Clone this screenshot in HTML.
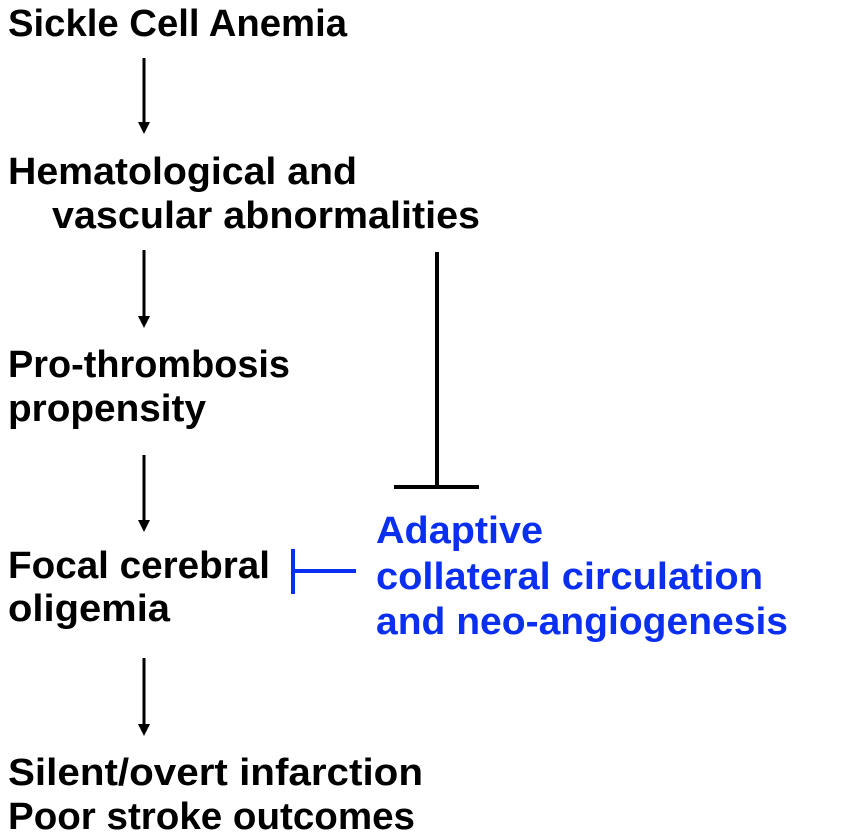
<!DOCTYPE html>
<html><head><meta charset="utf-8"><style>html,body{margin:0;padding:0;background:#fff;}svg{display:block}</style></head>
<body>
<svg width="851" height="839" viewBox="0 0 851 839" xmlns="http://www.w3.org/2000/svg">
<defs><marker id="ah" markerWidth="10" markerHeight="10" refX="5" refY="9" orient="auto" markerUnits="userSpaceOnUse"><path d="M0,0 L10,0 L5,10 Z" fill="#000"/></marker></defs>
<g font-family="Liberation Sans, sans-serif" font-weight="bold" font-size="38" fill="#000">
<text x="8" y="36" textLength="339" lengthAdjust="spacingAndGlyphs">Sickle Cell Anemia</text>
<text x="8" y="184" textLength="349" lengthAdjust="spacingAndGlyphs">Hematological and</text>
<text x="52" y="228" textLength="428" lengthAdjust="spacingAndGlyphs">vascular abnormalities</text>
<text x="8" y="377" textLength="282" lengthAdjust="spacingAndGlyphs">Pro-thrombosis</text>
<text x="8" y="421" textLength="198" lengthAdjust="spacingAndGlyphs">propensity</text>
<text x="8" y="578" textLength="262" lengthAdjust="spacingAndGlyphs">Focal cerebral</text>
<text x="8" y="621" textLength="162" lengthAdjust="spacingAndGlyphs">oligemia</text>
<text x="8" y="785" textLength="415" lengthAdjust="spacingAndGlyphs">Silent/overt infarction</text>
<text x="8" y="829" textLength="407" lengthAdjust="spacingAndGlyphs">Poor stroke outcomes</text>
</g>
<g font-family="Liberation Sans, sans-serif" font-weight="bold" font-size="38" fill="#0a2ff0">
<text x="376" y="543" textLength="167" lengthAdjust="spacingAndGlyphs">Adaptive</text>
<text x="376" y="589" textLength="387" lengthAdjust="spacingAndGlyphs">collateral circulation</text>
<text x="376" y="634" textLength="412" lengthAdjust="spacingAndGlyphs">and neo-angiogenesis</text>
</g>
<g stroke="#000" stroke-width="3">
<line x1="144" y1="58" x2="144" y2="124"/><path d="M138,122 L150,122 L144,134 Z" fill="#000" stroke="none"/>
<line x1="144" y1="250" x2="144" y2="318"/><path d="M138,316 L150,316 L144,328 Z" fill="#000" stroke="none"/>
<line x1="144" y1="455" x2="144" y2="522"/><path d="M138,520 L150,520 L144,532 Z" fill="#000" stroke="none"/>
<line x1="144" y1="658" x2="144" y2="726"/><path d="M138,724 L150,724 L144,736 Z" fill="#000" stroke="none"/>
<line x1="437" y1="252" x2="437" y2="487" stroke-width="4"/>
<line x1="394" y1="487" x2="479" y2="487" stroke-width="4"/>
</g>
<g stroke="#0a2ff0" stroke-width="4">
<line x1="293" y1="549" x2="293" y2="594"/>
<line x1="293" y1="571" x2="356" y2="571"/>
</g>
</svg>
</body></html>
